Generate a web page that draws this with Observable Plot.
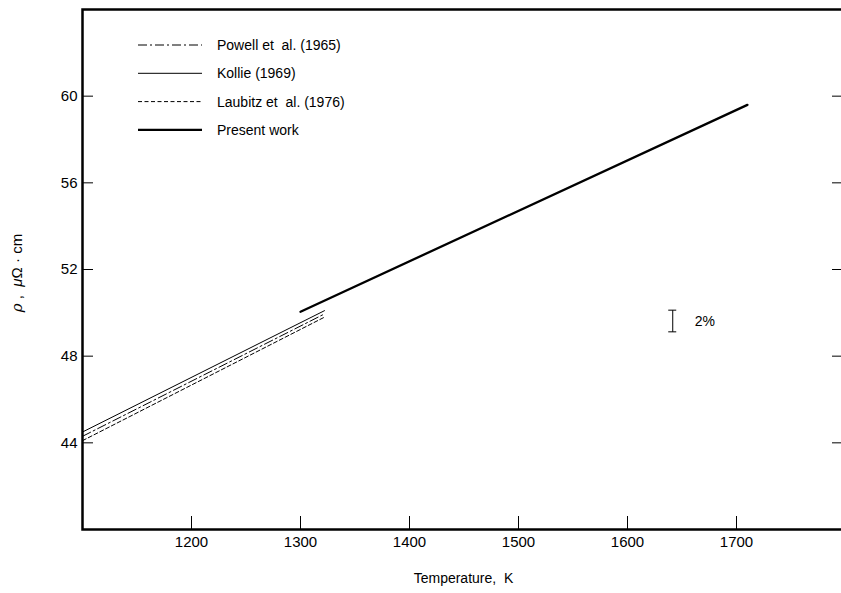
<!DOCTYPE html>
<html><head><meta charset="utf-8">
<script src="https://cdn.jsdelivr.net/npm/d3@7"></script>
<script src="https://cdn.jsdelivr.net/npm/@observablehq/plot@0.6"></script>
<style>
body{margin:0;background:#fff;overflow:hidden}
#chart{width:841px;height:593px;overflow:hidden}
#chart svg{max-width:none !important;font-family:"Liberation Sans",Arial,Helvetica,sans-serif}
</style>
</head><body><div id="chart"></div><pre id="err"></pre>
<script>
// ---- data ----
const seriesNames = ["Powell et  al. (1965)", "Kollie (1969)", "Laubitz et  al. (1976)", "Present work"];
const powellT = [1100, 1322];
const powellRho = [44.3, 49.95];
const kollieT = [1100, 1322];
const kollieRho = [44.5, 50.1];
const laubitzT = [1100, 1322];
const laubitzRho = [44.1, 49.8];
const presentT = [1300, 1710];
const presentRho = [50.05, 59.6];
const xTicks = [1200, 1300, 1400, 1500, 1600, 1700];
const yTicks = [44, 48, 52, 56, 60];
const errT = [1641.5];
const errLow = [49.1];
const errHigh = [50.1];
const errLabel = "2%";
const xTitle = "Temperature,  K";

try {
const dash = ["9,3,2,3", "none", "4,2.5", "none"];
const widths = [1, 1, 1, 2.3];

const seriesT = [powellT, kollieT, laubitzT, presentT];
const seriesRho = [powellRho, kollieRho, laubitzRho, presentRho];
const rows = seriesNames.map((name, i) => seriesT[i].map((t, j) => ({name, temp: t, rho: seriesRho[i][j]})));
const err = errT.map((t, i) => ({temp: t, lo: errLow[i], hi: errHigh[i], mid: (errLow[i] + errHigh[i]) / 2}));

const W = 845, H = 593;
const L = 82, B = 529, T0 = 9;
const frameW = W - L, frameH = B - T0;

const marks = [
  Plot.frame({stroke: "#000", strokeWidth: 2.5}),
  Plot.ruleX(xTicks, {x: d => d, insetTop: frameH - 13, stroke: "#000", strokeWidth: 1}),
  Plot.ruleY(yTicks, {y: d => d, insetRight: frameW - 11, stroke: "#000", strokeWidth: 1}),
  Plot.ruleY(yTicks, {y: d => d, insetLeft: frameW - 13, stroke: "#000", strokeWidth: 1}),
  Plot.axisX(xTicks, {tickSize: 0, tickPadding: 7, label: null, fontSize: 15, tickFormat: d => String(d)}),
  Plot.axisY(yTicks, {tickSize: 0, tickPadding: 5, label: null, fontSize: 15, tickFormat: d => String(d)}),
];
rows.forEach((r, i) => {
  marks.push(Plot.line(r, {x: "temp", y: "rho", stroke: "#000", strokeWidth: widths[i], strokeDasharray: dash[i]}));
});
marks.push(
  Plot.ruleX(err, {x: "temp", y1: "lo", y2: "hi", stroke: "#000", strokeWidth: 1}),
  Plot.text(err, {x: "temp", y: "mid", text: () => errLabel, textAnchor: "start", dx: 22, fontSize: 14, fill: "#000"})
);

const chart = Plot.plot({
  width: W, height: H,
  marginLeft: L, marginTop: T0, marginBottom: H - B, marginRight: 0,
  x: {domain: [1100, 1800]},
  y: {domain: [40, 64]},
  style: {fontFamily: '"Liberation Sans",Arial,Helvetica,sans-serif', color: "#000", background: "#fff", maxWidth: "none"},
  marks
});
document.getElementById("chart").appendChild(chart);

const svg = d3.select(chart);
const xs = chart.scale("x"), ys = chart.scale("y");
err.forEach(e => {
  [e.lo, e.hi].forEach(v => {
    svg.append("line").attr("x1", xs.apply(e.temp) - 4).attr("x2", xs.apply(e.temp) + 4)
      .attr("y1", ys.apply(v)).attr("y2", ys.apply(v)).attr("stroke", "#000");
  });
});
svg.append("text").attr("x", (L + W) / 2).attr("y", 583).attr("text-anchor", "middle")
  .attr("font-size", 14).attr("fill", "#000").text(xTitle);
const yt = svg.append("text").attr("transform", "translate(22,273) rotate(-90)").attr("text-anchor", "middle")
  .attr("font-size", 15).attr("fill", "#000");
yt.append("tspan").attr("font-family", '"DejaVu Serif",serif').attr("font-style", "italic").text("ρ");
yt.append("tspan").text(" ,  ");
yt.append("tspan").attr("font-style", "italic").text("μ");
yt.append("tspan").text("Ω · cm");

const lg = svg.append("g");
seriesNames.forEach((name, i) => {
  const y = 45 + i * 28.3;
  lg.append("line").attr("x1", 138).attr("x2", 202).attr("y1", y).attr("y2", y)
    .attr("stroke", "#000").attr("stroke-width", widths[i]).attr("stroke-dasharray", dash[i]);
  lg.append("text").attr("x", 217).attr("y", y).attr("dy", "0.35em").attr("font-size", 14)
    .attr("text-anchor", "start").attr("fill", "#000").text(name);
});
} catch (e) { document.getElementById("err").textContent = e.stack; }
</script>
</body></html>
